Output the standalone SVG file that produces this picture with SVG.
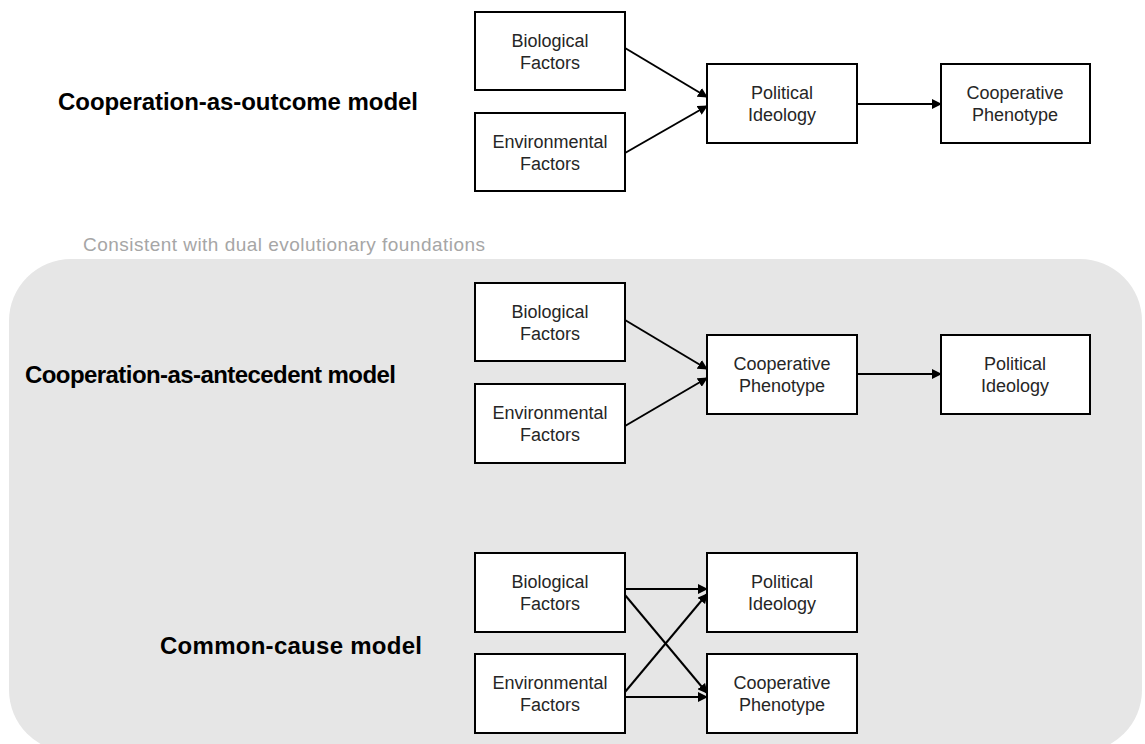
<svg xmlns="http://www.w3.org/2000/svg" width="1145" height="744" viewBox="0 0 1145 744">
<style>
.box{fill:#fff;stroke:#000;stroke-width:2}
.t{font-family:"Liberation Sans",Arial,sans-serif;font-size:18px;fill:#262626;text-anchor:middle}
.h{font-family:"Liberation Sans",Arial,sans-serif;font-size:24px;font-weight:bold;fill:#000}
.c{stroke:#000;stroke-width:2;fill:none;marker-end:url(#ah)}
</style>
<defs>
<marker id="ah" viewBox="0 0 10 10" refX="9" refY="5" markerWidth="5" markerHeight="5" orient="auto" markerUnits="strokeWidth">
<path d="M0,0 L10,5 L0,10 z" fill="#000"/>
</marker>
</defs>
<rect width="1145" height="744" fill="#fff"/>
<rect id="panel" x="9" y="259" width="1133" height="493" rx="62" ry="62" fill="#e6e6e6"/>
<text x="83" y="251" font-family="'Liberation Sans',Arial,sans-serif" font-size="19" fill="#a6a6a6" textLength="402" lengthAdjust="spacing">Consistent with dual evolutionary foundations</text>
<text class="h" x="58" y="110" textLength="360" lengthAdjust="spacing">Cooperation-as-outcome model</text>
<text class="h" x="25" y="383" textLength="371" lengthAdjust="spacing">Cooperation-as-antecedent model</text>
<text class="h" x="160" y="654" textLength="262" lengthAdjust="spacing">Common-cause model</text>
<g id="connectors">
<line class="c" x1="625" y1="48" x2="707" y2="97"/>
<line class="c" x1="625" y1="153" x2="707" y2="106"/>
<line class="c" x1="857" y1="104" x2="941" y2="104"/>
<line class="c" x1="625" y1="320" x2="707" y2="369"/>
<line class="c" x1="625" y1="426" x2="707" y2="378"/>
<line class="c" x1="857" y1="374" x2="941" y2="374"/>
<line class="c" x1="625" y1="589" x2="707" y2="589"/>
<line class="c" x1="625" y1="595" x2="707" y2="693"/>
<line class="c" x1="625" y1="692" x2="707" y2="594"/>
<line class="c" x1="625" y1="697" x2="707" y2="697"/>
</g>
<g id="n1"><rect class="box" x="475" y="12" width="150" height="78"/><text class="t" x="550" y="47">Biological</text><text class="t" x="550" y="69">Factors</text></g>
<g id="n2"><rect class="box" x="475" y="113" width="150" height="78"/><text class="t" x="550" y="148">Environmental</text><text class="t" x="550" y="170">Factors</text></g>
<g id="n3"><rect class="box" x="707" y="64" width="150" height="79"/><text class="t" x="782" y="99">Political</text><text class="t" x="782" y="121">Ideology</text></g>
<g id="n4"><rect class="box" x="941" y="64" width="149" height="79"/><text class="t" x="1015" y="99">Cooperative</text><text class="t" x="1015" y="121">Phenotype</text></g>
<g id="n5"><rect class="box" x="475" y="283" width="150" height="78"/><text class="t" x="550" y="318">Biological</text><text class="t" x="550" y="340">Factors</text></g>
<g id="n6"><rect class="box" x="475" y="384" width="150" height="79"/><text class="t" x="550" y="419">Environmental</text><text class="t" x="550" y="441">Factors</text></g>
<g id="n7"><rect class="box" x="707" y="335" width="150" height="79"/><text class="t" x="782" y="370">Cooperative</text><text class="t" x="782" y="392">Phenotype</text></g>
<g id="n8"><rect class="box" x="941" y="335" width="149" height="79"/><text class="t" x="1015" y="370">Political</text><text class="t" x="1015" y="392">Ideology</text></g>
<g id="n9"><rect class="box" x="475" y="553" width="150" height="79"/><text class="t" x="550" y="588">Biological</text><text class="t" x="550" y="610">Factors</text></g>
<g id="n10"><rect class="box" x="475" y="654" width="150" height="79"/><text class="t" x="550" y="689">Environmental</text><text class="t" x="550" y="711">Factors</text></g>
<g id="n11"><rect class="box" x="707" y="553" width="150" height="79"/><text class="t" x="782" y="588">Political</text><text class="t" x="782" y="610">Ideology</text></g>
<g id="n12"><rect class="box" x="707" y="654" width="150" height="79"/><text class="t" x="782" y="689">Cooperative</text><text class="t" x="782" y="711">Phenotype</text></g>
</svg>
